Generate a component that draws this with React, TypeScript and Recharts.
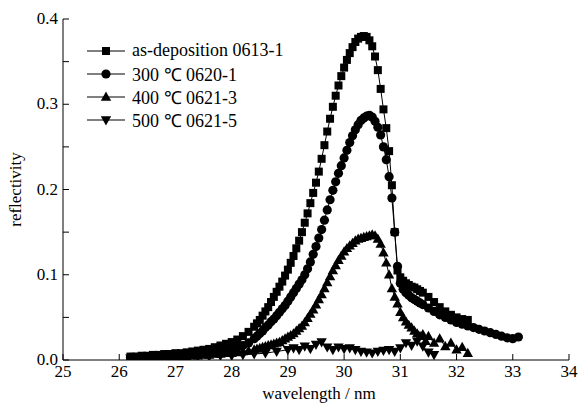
import React from 'react';
import { LineChart, Line, XAxis, YAxis, Legend, Label } from 'recharts';

// reflectivity curves, [wavelength nm, reflectivity]
const asDeposition: [number, number][] = [
  [26.2, 0.004], [26.3, 0.004], [26.4, 0.005], [26.5, 0.005], [26.6, 0.006], [26.7, 0.006], [26.8, 0.007], [26.9, 0.007],
  [27.0, 0.008], [27.1, 0.008], [27.2, 0.009], [27.3, 0.01], [27.4, 0.011], [27.5, 0.012], [27.6, 0.013], [27.7, 0.015],
  [27.8, 0.017], [27.9, 0.019], [28.0, 0.021], [28.1, 0.024], [28.2, 0.028], [28.3, 0.033], [28.4, 0.039], [28.45, 0.043],
  [28.5, 0.047], [28.55, 0.052], [28.6, 0.057], [28.65, 0.062], [28.7, 0.068], [28.75, 0.074], [28.8, 0.08], [28.85, 0.086],
  [28.9, 0.092], [28.95, 0.099], [29.0, 0.106], [29.05, 0.114], [29.1, 0.122], [29.15, 0.131], [29.2, 0.14], [29.25, 0.15],
  [29.3, 0.161], [29.35, 0.172], [29.4, 0.184], [29.45, 0.196], [29.5, 0.208], [29.55, 0.221], [29.6, 0.236], [29.65, 0.252],
  [29.7, 0.268], [29.75, 0.283], [29.8, 0.297], [29.85, 0.31], [29.9, 0.322], [29.95, 0.333], [30.0, 0.343], [30.05, 0.352],
  [30.1, 0.36], [30.15, 0.367], [30.2, 0.373], [30.25, 0.377], [30.3, 0.379], [30.35, 0.38], [30.4, 0.379], [30.45, 0.375],
  [30.5, 0.368], [30.55, 0.356], [30.6, 0.34], [30.65, 0.318], [30.7, 0.294], [30.75, 0.272], [30.8, 0.245], [30.85, 0.205],
  [30.9, 0.15], [30.95, 0.105], [31.0, 0.097], [31.05, 0.093], [31.1, 0.09], [31.15, 0.088], [31.2, 0.086], [31.25, 0.085],
  [31.3, 0.083], [31.35, 0.081], [31.4, 0.079], [31.5, 0.074], [31.6, 0.068], [31.7, 0.062], [31.8, 0.057], [31.9, 0.053],
  [32.0, 0.05], [32.1, 0.048], [32.2, 0.047],
];

const anneal300: [number, number][] = [
  [26.2, 0.003], [26.3, 0.003], [26.4, 0.004], [26.5, 0.004], [26.6, 0.005], [26.7, 0.005], [26.8, 0.005], [26.9, 0.006],
  [27.0, 0.006], [27.1, 0.006], [27.2, 0.007], [27.3, 0.007], [27.4, 0.008], [27.5, 0.008], [27.6, 0.009], [27.7, 0.01],
  [27.8, 0.011], [27.9, 0.012], [28.0, 0.013], [28.1, 0.015], [28.2, 0.017], [28.3, 0.02], [28.4, 0.025], [28.45, 0.028],
  [28.5, 0.031], [28.55, 0.034], [28.6, 0.038], [28.65, 0.041], [28.7, 0.045], [28.75, 0.048], [28.8, 0.052], [28.85, 0.056],
  [28.9, 0.06], [28.95, 0.064], [29.0, 0.069], [29.05, 0.074], [29.1, 0.079], [29.15, 0.084], [29.2, 0.089], [29.25, 0.094],
  [29.3, 0.1], [29.35, 0.107], [29.4, 0.115], [29.45, 0.124], [29.5, 0.133], [29.55, 0.143], [29.6, 0.153], [29.65, 0.164],
  [29.7, 0.176], [29.75, 0.188], [29.8, 0.199], [29.85, 0.209], [29.9, 0.219], [29.95, 0.228], [30.0, 0.237], [30.05, 0.246],
  [30.1, 0.255], [30.15, 0.263], [30.2, 0.27], [30.25, 0.276], [30.3, 0.281], [30.35, 0.284], [30.4, 0.286], [30.45, 0.287],
  [30.5, 0.285], [30.55, 0.28], [30.6, 0.273], [30.65, 0.264], [30.7, 0.25], [30.75, 0.235], [30.8, 0.215], [30.85, 0.19],
  [30.9, 0.15], [30.95, 0.11], [31.0, 0.09], [31.05, 0.083], [31.1, 0.079], [31.15, 0.076], [31.2, 0.073], [31.25, 0.071],
  [31.3, 0.069], [31.35, 0.067], [31.4, 0.065], [31.5, 0.061], [31.6, 0.057], [31.7, 0.053], [31.8, 0.05], [31.9, 0.047],
  [32.0, 0.044], [32.1, 0.042], [32.2, 0.04], [32.3, 0.038], [32.4, 0.036], [32.5, 0.034], [32.6, 0.032], [32.7, 0.03],
  [32.8, 0.028], [32.9, 0.026], [33.0, 0.025], [33.1, 0.027],
];

const anneal400: [number, number][] = [
  [26.2, 0.002], [26.3, 0.002], [26.4, 0.002], [26.5, 0.003], [26.6, 0.003], [26.7, 0.003], [26.8, 0.003], [26.9, 0.004],
  [27.0, 0.004], [27.1, 0.004], [27.2, 0.004], [27.3, 0.005], [27.4, 0.005], [27.5, 0.006], [27.6, 0.006], [27.7, 0.007],
  [27.8, 0.007], [27.9, 0.008], [28.0, 0.008], [28.1, 0.009], [28.2, 0.01], [28.3, 0.011], [28.4, 0.012], [28.45, 0.013],
  [28.5, 0.014], [28.55, 0.015], [28.6, 0.016], [28.65, 0.017], [28.7, 0.018], [28.75, 0.019], [28.8, 0.02], [28.85, 0.021],
  [28.9, 0.023], [28.95, 0.025], [29.0, 0.027], [29.05, 0.029], [29.1, 0.031], [29.15, 0.034], [29.2, 0.037], [29.25, 0.04],
  [29.3, 0.044], [29.35, 0.049], [29.4, 0.054], [29.45, 0.059], [29.5, 0.065], [29.55, 0.071], [29.6, 0.077], [29.65, 0.084],
  [29.7, 0.091], [29.75, 0.098], [29.8, 0.105], [29.85, 0.111], [29.9, 0.117], [29.95, 0.122], [30.0, 0.127], [30.05, 0.131],
  [30.1, 0.134], [30.15, 0.137], [30.2, 0.14], [30.25, 0.142], [30.3, 0.143], [30.35, 0.144], [30.4, 0.145], [30.45, 0.146],
  [30.5, 0.147], [30.55, 0.146], [30.6, 0.142], [30.65, 0.136], [30.7, 0.126], [30.75, 0.114], [30.8, 0.1], [30.85, 0.084],
  [30.9, 0.074], [30.95, 0.066], [31.0, 0.056], [31.05, 0.05], [31.1, 0.045], [31.15, 0.041], [31.2, 0.038], [31.25, 0.034],
  [31.3, 0.031], [31.35, 0.028], [31.4, 0.03], [31.45, 0.022], [31.5, 0.028], [31.6, 0.02], [31.7, 0.025], [31.8, 0.016],
  [31.9, 0.02], [32.0, 0.012], [32.1, 0.015], [32.2, 0.008],
];

const anneal500: [number, number][] = [
  [26.2, 0.002], [26.4, 0.002], [26.6, 0.002], [26.8, 0.003], [27.0, 0.003], [27.2, 0.003], [27.4, 0.004], [27.6, 0.004],
  [27.8, 0.005], [28.0, 0.005], [28.2, 0.006], [28.4, 0.007], [28.6, 0.008], [28.8, 0.01], [29.0, 0.012], [29.1, 0.014],
  [29.2, 0.012], [29.3, 0.016], [29.4, 0.013], [29.5, 0.018], [29.6, 0.021], [29.7, 0.015], [29.8, 0.012], [29.9, 0.015],
  [30.0, 0.013], [30.1, 0.014], [30.2, 0.012], [30.3, 0.01], [30.4, 0.009], [30.5, 0.008], [30.6, 0.01], [30.7, 0.011],
  [30.8, 0.012], [30.9, 0.01], [31.0, 0.014], [31.1, 0.02], [31.2, 0.017], [31.3, 0.022], [31.4, 0.016], [31.5, 0.009],
  [31.6, 0.006],
];

const seriesNames = ['as-deposition 0613-1', '300 \u2103 0620-1', '400 \u2103 0621-3', '500 \u2103 0621-5'];
const markerShapes = ['square', 'circle', 'triangle', 'triangleDown'];
const seriesData = [asDeposition, anneal300, anneal400, anneal500];

const xTicks = [25, 26, 27, 28, 29, 30, 31, 32, 33, 34];
const yTicks = [0, 0.05, 0.1, 0.15, 0.2, 0.25, 0.3, 0.35, 0.4];

const FONT = '"Liberation Serif", "Times New Roman", serif';

const Marker = ({ shape, cx, cy }: { shape: string; cx: number; cy: number }) => {
  if (shape === 'square') return <rect x={cx - 4} y={cy - 4} width={8} height={8} fill="#000" />;
  if (shape === 'circle') return <circle cx={cx} cy={cy} r={4.6} fill="#000" />;
  if (shape === 'triangle')
    return <path d={`M${cx},${cy - 5.4}L${cx + 5.2},${cy + 3.8}L${cx - 5.2},${cy + 3.8}Z`} fill="#000" />;
  return <path d={`M${cx},${cy + 5.4}L${cx + 5.2},${cy - 3.8}L${cx - 5.2},${cy - 3.8}Z`} fill="#000" />;
};

const XTick = (props: any) => {
  const { x, y, payload } = props;
  const axisY = y - 2;
  return (
    <g>
      <line x1={x} x2={x} y1={axisY} y2={axisY - 6} stroke="#000" strokeWidth={1} />
      <text x={x} y={y + 15} textAnchor="middle" fontFamily={FONT} fontSize={17} fill="#000">
        {payload.value}
      </text>
    </g>
  );
};

const YTick = (props: any) => {
  const { x, y, payload } = props;
  const axisX = x + 2;
  const v = payload.value;
  const major = Math.round(v * 100) % 10 === 0;
  return (
    <g>
      <line x1={axisX} x2={axisX + 6} y1={y} y2={y} stroke="#000" strokeWidth={1} />
      {major && (
        <text x={x - 3} y={y + 5} textAnchor="end" fontFamily={FONT} fontSize={17} fill="#000">
          {v.toFixed(1)}
        </text>
      )}
    </g>
  );
};

const LegendBox = () => (
  <div style={{ fontFamily: FONT, fontSize: 18, color: '#000' }}>
    {seriesNames.map((name, i) => (
      <div key={name} style={{ display: 'flex', alignItems: 'center', height: 23 }}>
        <svg width={42} height={14} style={{ marginRight: 4 }}>
          <line x1={1} x2={39} y1={7} y2={7} stroke="#000" strokeWidth={1} />
          <Marker shape={markerShapes[i]} cx={20} cy={7} />
        </svg>
        <span style={{ whiteSpace: 'nowrap' }}>{name}</span>
      </div>
    ))}
  </div>
);

export default function App() {
  return (
    <div style={{ position: 'absolute', left: 0, top: 0, width: 579, height: 404, background: '#fff' }}>
      <LineChart width={579} height={404} margin={{ top: 19, right: 10, bottom: 14, left: 23 }}>
        <XAxis
          type="number"
          dataKey="w"
          domain={[25, 34]}
          ticks={xTicks}
          allowDataOverflow
          stroke="#000"
          tickLine={false}
          tickSize={0}
          tickMargin={2}
          tick={<XTick />}
          height={30}
        >
          <Label
            content={(p: any) => (
              <text
                x={p.viewBox.x + p.viewBox.width / 2 + 3}
                y={p.viewBox.y + 39}
                textAnchor="middle"
                fontFamily={FONT}
                fontSize={17}
                fill="#000"
              >
                wavelength / nm
              </text>
            )}
          />
        </XAxis>
        <YAxis
          type="number"
          dataKey="r"
          domain={[0, 0.4]}
          ticks={yTicks}
          allowDataOverflow
          stroke="#000"
          tickLine={false}
          tickSize={0}
          tickMargin={2}
          tick={<YTick />}
          width={40}
        >
          <Label
            content={(p: any) => {
              const cx = p.viewBox.x - 2;
              const cy = p.viewBox.y + p.viewBox.height / 2;
              return (
                <text
                  x={cx}
                  y={cy}
                  transform={`rotate(-90 ${cx} ${cy})`}
                  textAnchor="middle"
                  fontFamily={FONT}
                  fontSize={17}
                  fill="#000"
                >
                  reflectivity
                </text>
              );
            }}
          />
        </YAxis>
        <Legend
          layout="vertical"
          align="center"
          verticalAlign="middle"
          content={<LegendBox />}
          wrapperStyle={{ top: 39, left: 86, width: 'auto', height: 'auto' }}
        />
        {seriesData.map((pts, i) => (
          <Line
            key={seriesNames[i]}
            name={seriesNames[i]}
            data={pts.map(([w, r]) => ({ w, r }))}
            dataKey="r"
            type="linear"
            stroke="#000"
            strokeWidth={1}
            isAnimationActive={false}
            dot={(p: any) =>
              p.cx == null || p.cy == null ? (
                <g key={`e-${i}-${p.index}`} />
              ) : (
                <g key={`d-${i}-${p.index}`}>
                  <Marker shape={markerShapes[i]} cx={p.cx} cy={p.cy} />
                </g>
              )
            }
            activeDot={false}
          />
        ))}
      </LineChart>
    </div>
  );
}
